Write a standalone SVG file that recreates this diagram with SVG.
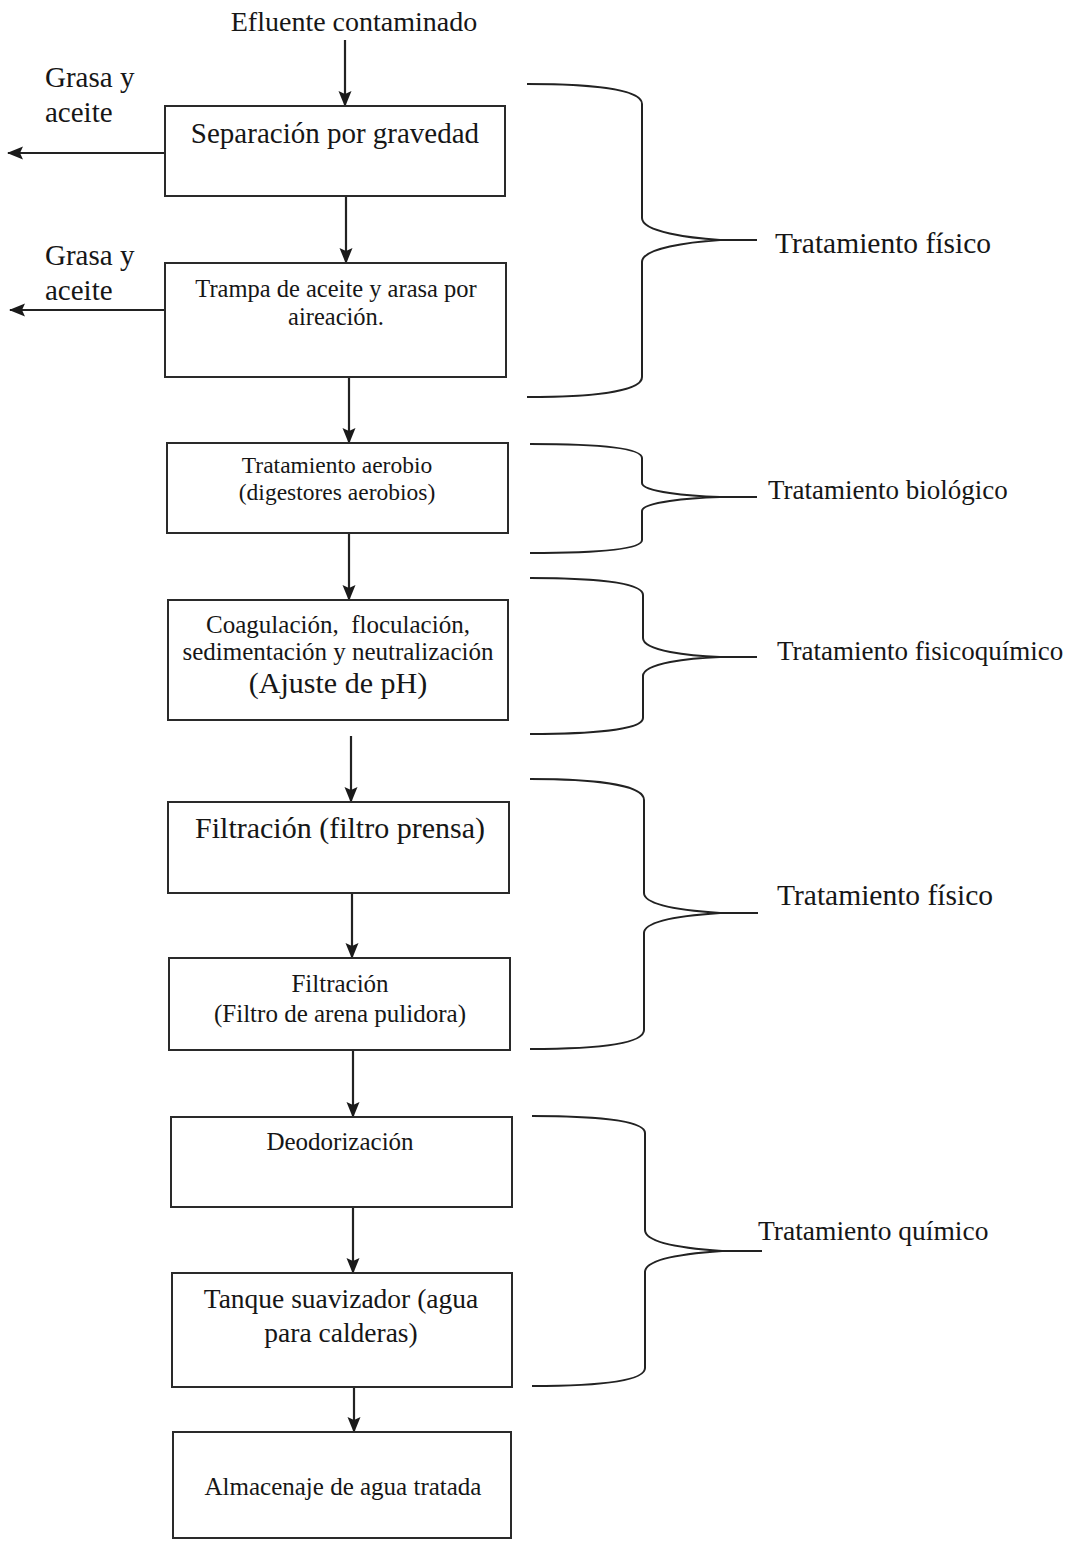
<svg xmlns="http://www.w3.org/2000/svg" width="1079" height="1541" viewBox="0 0 1079 1541">
<style>
text{font-family:"Liberation Serif","Times New Roman",serif;fill:#161616}
.box{fill:#fff;stroke:#2a2a2a;stroke-width:2}
.ln{fill:none;stroke:#222;stroke-width:2.2}
.br{fill:none;stroke:#222;stroke-width:2}
.c{text-anchor:middle}
</style>
<defs>
<marker id="ah" viewBox="0 0 16 14" refX="15" refY="7" markerWidth="16" markerHeight="14" markerUnits="userSpaceOnUse" orient="auto">
<path d="M0,0.5 L16,7 L0,13.5 L3,7 z" fill="#1a1a1a"/>
</marker>
</defs>
<rect width="1079" height="1541" fill="#fff"/>

<g id="connectors">
<line class="ln" x1="345" y1="40" x2="345" y2="106" marker-end="url(#ah)"/>
<line class="ln" x1="346" y1="196" x2="346" y2="263" marker-end="url(#ah)"/>
<line class="ln" x1="349" y1="377" x2="349" y2="443" marker-end="url(#ah)"/>
<line class="ln" x1="349" y1="533" x2="349" y2="600" marker-end="url(#ah)"/>
<line class="ln" x1="351" y1="736" x2="351" y2="802" marker-end="url(#ah)"/>
<line class="ln" x1="352" y1="893" x2="352" y2="958" marker-end="url(#ah)"/>
<line class="ln" x1="353" y1="1050" x2="353" y2="1117" marker-end="url(#ah)"/>
<line class="ln" x1="353" y1="1207" x2="353" y2="1273" marker-end="url(#ah)"/>
<line class="ln" x1="354" y1="1387" x2="354" y2="1432" marker-end="url(#ah)"/>
<line class="ln" x1="165" y1="153" x2="8" y2="153" marker-end="url(#ah)"/>
<line class="ln" x1="165" y1="310" x2="10" y2="310" marker-end="url(#ah)"/>
</g>

<g id="inlet"><text class="c" x="354" y="31" font-size="28">Efluente contaminado</text></g>
<g id="out1"><text x="45" y="87" font-size="29">Grasa y</text><text x="45" y="122" font-size="29">aceite</text></g>
<g id="out2"><text x="45" y="265" font-size="29">Grasa y</text><text x="45" y="300" font-size="29">aceite</text></g>

<g id="n1"><rect class="box" x="165" y="106" width="340" height="90"/>
<text class="c" x="335" y="143" font-size="29">Separación por gravedad</text></g>
<g id="n2"><rect class="box" x="165" y="263" width="341" height="114"/>
<text class="c" x="336" y="297" font-size="24.5">Trampa de aceite y arasa por</text>
<text class="c" x="336" y="325" font-size="24.5">aireación.</text></g>
<g id="n3"><rect class="box" x="167" y="443" width="341" height="90"/>
<text class="c" x="337" y="473" font-size="23.5">Tratamiento aerobio</text>
<text class="c" x="337" y="500" font-size="23.5">(digestores aerobios)</text></g>
<g id="n4"><rect class="box" x="168" y="600" width="340" height="120"/>
<text class="c" x="338" y="633" font-size="25" style="white-space:pre">Coagulación,  floculación,</text>
<text class="c" x="338" y="660" font-size="25">sedimentación y neutralización</text>
<text class="c" x="338" y="693" font-size="30">(Ajuste de pH)</text></g>
<g id="n5"><rect class="box" x="168" y="802" width="341" height="91"/>
<text class="c" x="340" y="838" font-size="30">Filtración (filtro prensa)</text></g>
<g id="n6"><rect class="box" x="169" y="958" width="341" height="92"/>
<text class="c" x="340" y="992" font-size="25">Filtración</text>
<text class="c" x="340" y="1022" font-size="25">(Filtro de arena pulidora)</text></g>
<g id="n7"><rect class="box" x="171" y="1117" width="341" height="90"/>
<text class="c" x="340" y="1150" font-size="25">Deodorización</text></g>
<g id="n8"><rect class="box" x="172" y="1273" width="340" height="114"/>
<text class="c" x="341" y="1308" font-size="27.5">Tanque suavizador (agua</text>
<text class="c" x="341" y="1342" font-size="27.5">para calderas)</text></g>
<g id="n9"><rect class="box" x="173" y="1432" width="338" height="106"/>
<text class="c" x="343" y="1495" font-size="25">Almacenaje de agua tratada</text></g>

<g id="b1"><path class="br" d="M527,84 C590,84 642,89 642,104 L642,218 C642,232 690,238 720,240 L757,240 M720,240 C690,242 642,248 642,262 L642,377 C642,392 590,397 527,397"/>
<text x="775" y="253" font-size="29.5">Tratamiento físico</text></g>
<g id="b2"><path class="br" d="M530,444 C590,444 642,447 642,458 L642,483 C642,492 690,496 720,497 L757,497 M720,497 C690,498 642,502 642,511 L642,540 C642,550 590,553 530,553"/>
<text x="768" y="499" font-size="27">Tratamiento biológico</text></g>
<g id="b3"><path class="br" d="M530,578 C590,578 643,582 643,595 L643,638 C643,651 690,656 720,657 L757,657 M720,657 C690,658 643,663 643,676 L643,718 C643,730 590,734 530,734"/>
<text x="777" y="660" font-size="27">Tratamiento fisicoquímico</text></g>
<g id="b4"><path class="br" d="M530,779 C590,779 644,784 644,800 L644,893 C644,906 690,911 720,913 L758,913 M720,913 C690,915 644,920 644,933 L644,1030 C644,1045 590,1049 530,1049"/>
<text x="777" y="905" font-size="29.5">Tratamiento físico</text></g>
<g id="b5"><path class="br" d="M532,1116 C592,1116 645,1120 645,1133 L645,1230 C645,1244 692,1249 722,1251 L762,1251 M722,1251 C692,1253 645,1258 645,1272 L645,1368 C645,1382 592,1386 532,1386"/>
<text x="758" y="1240" font-size="27.5">Tratamiento químico</text></g>
</svg>
